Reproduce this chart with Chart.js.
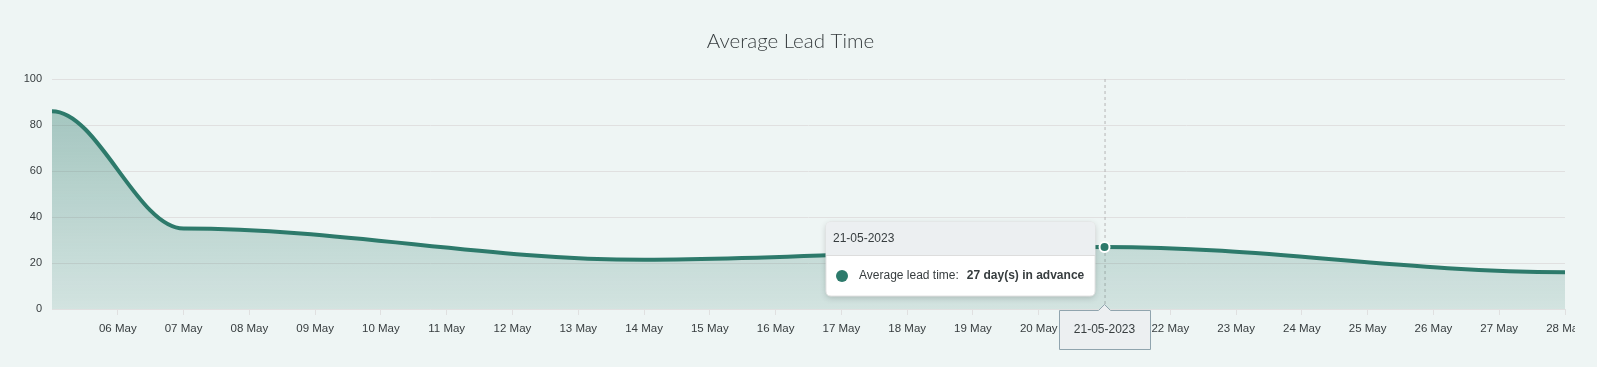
<!DOCTYPE html>
<html>
<head>
<meta charset="utf-8">
<title>Average Lead Time</title>
<script src="https://cdn.jsdelivr.net/npm/chart.js@4/dist/chart.umd.min.js"></script>
<style>
  html, body { margin: 0; padding: 0; background: #eef5f4; overflow: hidden; }
  #wrap { width: 1575px; height: 367px; }
</style>
</head>
<body>
<div id="wrap"><canvas id="lead-chart" width="1575" height="367"></canvas></div>
<script>
// Days on the x axis (May 2023)
const days = ["05 May", "06 May", "07 May", "08 May", "09 May", "10 May", "11 May", "12 May",
  "13 May", "14 May", "15 May", "16 May", "17 May", "18 May", "19 May", "20 May",
  "21 May", "22 May", "23 May", "24 May", "25 May", "26 May", "27 May", "28 May"];
// days that actually carry a measurement
const pointDays = ["05 May", "07 May", "14 May", "21 May", "28 May"];
// average lead time, in days
const leadTime = [86, 35, 21.4, 27, 16];
const yTicks = [0, 20, 40, 60, 80, 100];
const activeDay = "21 May"; // hovered day in the screenshot

const lineColor = '#2d7a6b';
const textColor = '#373d3f';
const gridColor = '#e0e0e0';

function fullDate(day) {
  return day.slice(0, 2) + '-05-2023';
}

function roundRect(ctx, x, y, w, h, r) {
  ctx.beginPath();
  ctx.moveTo(x + r, y);
  ctx.lineTo(x + w - r, y);
  ctx.quadraticCurveTo(x + w, y, x + w, y + r);
  ctx.lineTo(x + w, y + h - r);
  ctx.quadraticCurveTo(x + w, y + h, x + w - r, y + h);
  ctx.lineTo(x + r, y + h);
  ctx.quadraticCurveTo(x, y + h, x, y + h - r);
  ctx.lineTo(x, y + r);
  ctx.quadraticCurveTo(x, y, x + r, y);
  ctx.closePath();
}

// smooth curve with flat tangents at every point (control points 35% of the gap away)
const flatSpline = {
  id: 'flatSpline',
  afterDatasetUpdate(chart, args) {
    const line = args.meta.dataset;
    if (!line) return;
    line.updateControlPoints(chart.chartArea, 'x');
    const pts = line.points;
    pts.forEach((p, i) => {
      const prev = pts[i - 1], next = pts[i + 1];
      p.cp1x = prev ? p.x - (p.x - prev.x) * 0.35 : p.x;
      p.cp1y = p.y;
      p.cp2x = next ? p.x + (next.x - p.x) * 0.35 : p.x;
      p.cp2y = p.y;
    });
  }
};

// crosshair + the two tooltips, placed from the chart scales
const hoverPlugin = {
  id: 'hoverMarker',
  beforeDatasetsDraw(chart) {
    const { ctx, chartArea, scales } = chart;
    const x = scales.x.getPixelForValue(days.indexOf(activeDay));
    ctx.save();
    ctx.strokeStyle = '#b6b6b6';
    ctx.lineWidth = 1;
    ctx.setLineDash([3, 3]);
    ctx.beginPath();
    ctx.moveTo(x + 0.5, chartArea.top);
    ctx.lineTo(x + 0.5, chartArea.bottom);
    ctx.stroke();
    ctx.restore();
  },
  afterDraw(chart) {
    const { ctx, chartArea, scales } = chart;
    const value = leadTime[pointDays.indexOf(activeDay)];
    const x = scales.x.getPixelForValue(days.indexOf(activeDay));
    const y = scales.y.getPixelForValue(value);
    const label = fullDate(activeDay);
    const font = '"Liberation Sans", Helvetica, Arial, sans-serif';

    // x axis tooltip
    ctx.save();
    const bw = 92, bh = 40;
    const bx = Math.round(x - bw / 2), by = chartArea.bottom + 1;
    ctx.fillStyle = '#eceff1';
    ctx.strokeStyle = '#90a4ae';
    ctx.lineWidth = 1;
    ctx.beginPath();
    ctx.moveTo(bx + 0.5, by + 0.5);
    ctx.lineTo(x - 6, by + 0.5);
    ctx.lineTo(x, by - 5.5);
    ctx.lineTo(x + 6, by + 0.5);
    ctx.lineTo(bx + bw - 0.5, by + 0.5);
    ctx.lineTo(bx + bw - 0.5, by + bh - 0.5);
    ctx.lineTo(bx + 0.5, by + bh - 0.5);
    ctx.closePath();
    ctx.fill();
    ctx.stroke();
    ctx.fillStyle = textColor;
    ctx.font = '12px ' + font;
    ctx.textAlign = 'center';
    ctx.textBaseline = 'middle';
    ctx.fillText(label, x, by + 20);
    ctx.restore();

    // main tooltip
    ctx.save();
    const tw = 269, th = 74, hh = 33;
    const tx = Math.round(x - 10 - tw), ty = Math.round(y - 25);
    ctx.shadowColor = 'rgba(0,0,0,0.18)';
    ctx.shadowBlur = 6;
    ctx.shadowOffsetY = 2;
    ctx.fillStyle = '#ffffff';
    roundRect(ctx, tx, ty, tw, th, 5);
    ctx.fill();
    ctx.shadowColor = 'transparent';
    ctx.strokeStyle = '#e3e3e3';
    ctx.stroke();
    ctx.save();
    roundRect(ctx, tx, ty, tw, th, 5);
    ctx.clip();
    ctx.fillStyle = '#eceff1';
    ctx.fillRect(tx, ty, tw, hh);
    ctx.fillStyle = '#dddddd';
    ctx.fillRect(tx, ty + hh, tw, 1);
    ctx.restore();

    ctx.fillStyle = textColor;
    ctx.font = '12px ' + font;
    ctx.textBaseline = 'middle';
    ctx.textAlign = 'left';
    ctx.fillText(label, tx + 7, ty + 17);

    const rowY = ty + 54;
    ctx.fillStyle = lineColor;
    ctx.beginPath();
    ctx.arc(tx + 16, rowY, 6, 0, Math.PI * 2);
    ctx.fill();
    ctx.fillStyle = textColor;
    const name = 'Average lead time:';
    ctx.fillText(name, tx + 33, rowY);
    const nw = ctx.measureText(name).width;
    ctx.font = 'bold 12px ' + font;
    ctx.fillText(value.toFixed(0) + ' day(s) in advance', tx + 33 + nw + 8, rowY);
    ctx.restore();
  }
};

const ctxLead = document.getElementById('lead-chart').getContext('2d');
const leadChart = new Chart(ctxLead, {
  type: 'line',
  data: {
    labels: days,
    datasets: [{
      label: 'Average lead time',
      data: pointDays.map((d, i) => ({ x: d, y: leadTime[i] })),
      borderColor: lineColor,
      borderWidth: 4,
      tension: 0.4,
      fill: 'origin',
      backgroundColor: (c) => {
        const area = c.chart.chartArea;
        if (!area) return 'rgba(45,122,107,0.3)';
        const g = c.chart.ctx.createLinearGradient(0, area.top, 0, area.bottom);
        g.addColorStop(0, 'rgba(45,122,107,0.42)');
        g.addColorStop(1, 'rgba(45,122,107,0.14)');
        return g;
      },
      pointRadius: (c) => pointDays[c.dataIndex] === activeDay ? 5 : 0,
      pointBackgroundColor: lineColor,
      pointBorderColor: '#ffffff',
      pointBorderWidth: 2
    }]
  },
  options: {
    responsive: false,
    animation: false,
    events: [],
    layout: { padding: { left: 16, right: 10, top: 0, bottom: 0 } },
    plugins: {
      legend: { display: false },
      tooltip: { enabled: false },
      title: {
        display: true,
        text: 'Average Lead Time',
        color: textColor,
        font: { family: 'Lato', size: 20.5, weight: '300', lineHeight: 1.2 },
        padding: { top: 29, bottom: 25.4 }
      }
    },
    scales: {
      x: {
        afterFit: (s) => { s.paddingLeft = 0; s.paddingRight = 0; s.height = 58; },
        border: { display: true, color: gridColor },
        grid: {
          drawOnChartArea: false,
          drawTicks: true,
          tickLength: 6,
          color: (c) => c.index === 0 ? 'rgba(0,0,0,0)' : gridColor
        },
        ticks: {
          maxRotation: 0,
          autoSkip: false,
          padding: 7,
          color: textColor,
          font: { family: '"Liberation Sans", Helvetica, Arial', size: 11.5 },
          callback: (v, i) => i === 0 ? '' : days[i]
        }
      },
      y: {
        min: 0,
        max: 100,
        afterFit: (s) => { s.width = 36; s.paddingTop = 0; s.paddingBottom = 0; },
        afterBuildTicks: (s) => { s.ticks = yTicks.map(v => ({ value: v })); },
        border: { display: false },
        grid: { color: gridColor, drawTicks: false },
        ticks: {
          padding: 10,
          color: textColor,
          font: { family: '"Liberation Sans", Helvetica, Arial', size: 11 }
        }
      }
    }
  },
  plugins: [flatSpline, hoverPlugin]
});
</script>
</body>
</html>
